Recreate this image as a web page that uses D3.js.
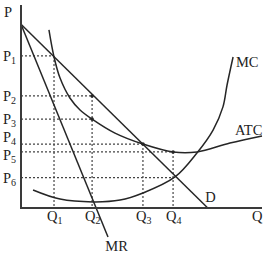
<!DOCTYPE html>
<html>
<head>
<meta charset="utf-8">
<script src="https://cdn.jsdelivr.net/npm/d3@7"></script>
<style>
    html, body { margin: 0; padding: 0; background: #fff; }
    svg text { font-family: "Liberation Serif", "DejaVu Serif", serif; fill: #222; }
</style>
</head>
<body>
<div id="chart"></div>
<script>
// Price levels (P1..P6) and where each dotted guide ends on the Q axis
const priceNames = ['1', '2', '3', '4', '5', '6'];
const priceValues = [74.9, 55.2, 43.8, 31.5, 27.6, 15.0];
const priceGuideEnds = [13.7, 29.5, 29.5, 50.6, 63.1, 63.1];

// Quantity levels (Q1..Q4) and the price where each dotted guide starts
const qtyNames = ['1', '2', '3', '4'];
const qtyValues = [13.7, 29.5, 50.6, 63.1];
const qtyGuideTops = [74.9, 55.2, 31.5, 27.6];

// Curves (q, p)
const demand = [[0, 90.5], [77.5, 0]];
const marginalRevenue = [[0, 90.5], [36.1, -14.3]];
const mcCurve = [[5.0, 8.9], [16.2, 4.4], [29.9, 3.0], [41.1, 3.9], [50.6, 7.4],
    [63.9, 15.3], [73.0, 27.1], [79.7, 38.4], [83.8, 49.8], [85.5, 60.6], [88.0, 74.4]];
const atcCurve = [[11.6, 87.7], [13.7, 74.4], [16.2, 64.0], [20.3, 54.2], [24.5, 48.3],
    [29.5, 43.8], [39.0, 36.9], [50.6, 31.5], [63.1, 27.6], [73.0, 27.6], [86.7, 32.0], [100, 35.5]];

// Marked points
const markers = [[29.5, 55.2], [29.5, 43.8], [50.6, 31.5], [63.1, 27.6]];

const width = 273, height = 257;

const svg = d3.select('#chart')
    .append('svg')
    .attr('width', width)
    .attr('height', height);

const x = d3.scaleLinear().domain([0, 100]).range([21, 262]);
const y = d3.scaleLinear().domain([0, 100]).range([208, 5]);

const ink = '#262626';

// Dotted guides
const guides = svg.append('g')
    .attr('stroke', '#444')
    .attr('stroke-width', 1.2)
    .attr('stroke-dasharray', '2,2');

guides.selectAll('.hguide')
    .data(priceValues)
    .join('line')
    .attr('x1', x(0))
    .attr('x2', (d, i) => x(priceGuideEnds[i]))
    .attr('y1', d => y(d))
    .attr('y2', d => y(d));

guides.selectAll('.vguide')
    .data(qtyValues)
    .join('line')
    .attr('x1', d => x(d))
    .attr('x2', d => x(d))
    .attr('y1', (d, i) => y(qtyGuideTops[i]))
    .attr('y2', y(0));

// Curves
const line = d3.line().x(d => x(d[0])).y(d => y(d[1]));
const smooth = d3.line().x(d => x(d[0])).y(d => y(d[1])).curve(d3.curveCatmullRom.alpha(0.5));

const curves = svg.append('g')
    .attr('fill', 'none')
    .attr('stroke', ink)
    .attr('stroke-width', 1.5);

curves.append('path').attr('d', line(demand));
curves.append('path').attr('d', line(marginalRevenue));
curves.append('path').attr('d', smooth(mcCurve));
curves.append('path').attr('d', smooth(atcCurve));

// Axes
svg.append('path')
    .attr('d', `M${x(0)},${y(100)}V${y(0)}H${x(100)}`)
    .attr('fill', 'none')
    .attr('stroke', '#3a3a3a')
    .attr('stroke-width', 2);

svg.selectAll('.marker')
    .data(markers)
    .join('circle')
    .attr('cx', d => x(d[0]))
    .attr('cy', d => y(d[1]))
    .attr('r', 1.8)
    .attr('fill', ink);

// Labels
const fs = 14.5, sub = 10;
// P4 sits just above its line and P5 just below, as in the original
const priceNudge = [0, 0, 0, -7, 3, 0];

function subLabel(px, py, letter, idx) {
    const t = svg.append('text')
        .attr('x', px)
        .attr('y', py)
        .attr('font-size', fs);
    t.append('tspan').text(letter);
    t.append('tspan').attr('font-size', sub).attr('dy', 3).text(idx);
}

priceValues.forEach((d, i) => subLabel(3, y(d) + 5 + priceNudge[i], 'P', priceNames[i]));
qtyValues.forEach((d, i) => subLabel(x(d) - 7, 221, 'Q', qtyNames[i]));

svg.append('text').attr('x', 4).attr('y', 17).attr('font-size', fs).text('P');
svg.append('text').attr('x', 252).attr('y', 221).attr('font-size', fs).text('Q');
svg.append('text').attr('x', x(35)).attr('y', 251).attr('font-size', fs).text('MR');
svg.append('text').attr('x', x(76.5)).attr('y', 202).attr('font-size', fs).text('D');
svg.append('text').attr('x', x(89.2)).attr('y', 67).attr('font-size', fs).text('MC');
svg.append('text').attr('x', x(88.8)).attr('y', 135).attr('font-size', fs).text('ATC');
</script>
</body>
</html>
